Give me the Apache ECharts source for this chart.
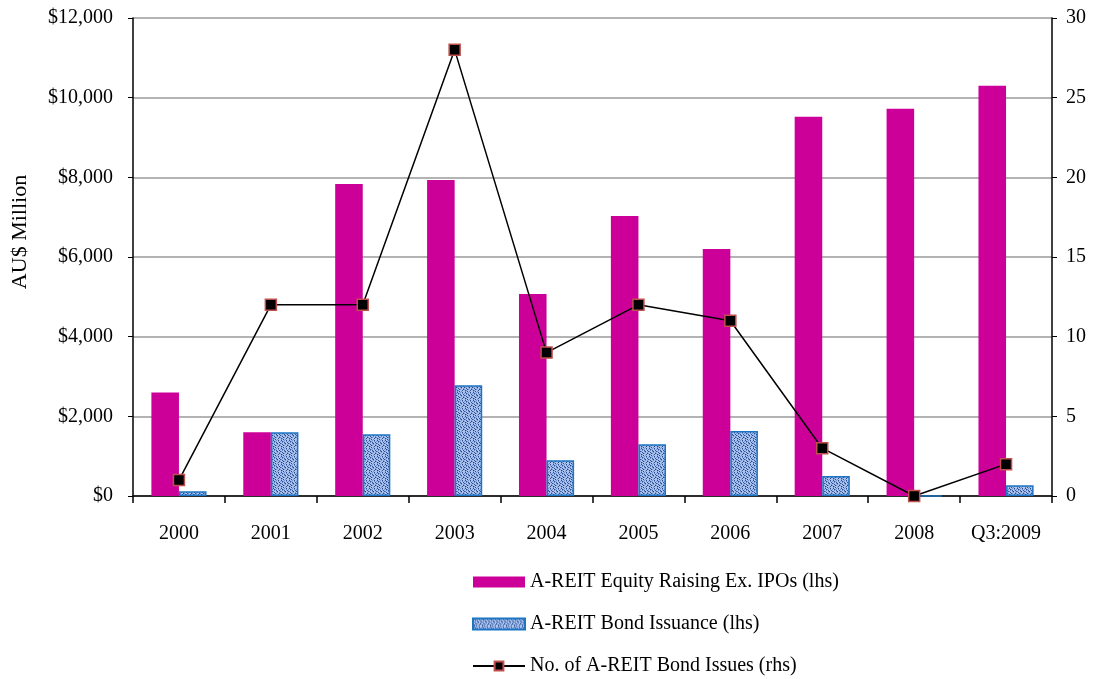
<!DOCTYPE html>
<html>
<head>
<meta charset="utf-8">
<script src="https://cdn.jsdelivr.net/npm/echarts@6/dist/echarts.min.js"></script>
<style>html,body{margin:0;padding:0;background:#fff;}#c{width:1101px;height:679px;}</style>
</head>
<body>
<div id="c"></div>
<script>
const categories = ['2000','2001','2002','2003','2004','2005','2006','2007','2008','Q3:2009'];
const equityRaising = [2600, 1600, 7830, 7930, 5070, 7030, 6200, 9520, 9720, 10300];
const bondIssuance = [120, 1600, 1550, 2780, 900, 1300, 1630, 500, 0, 270];
const bondIssues = [1, 12, 12, 28, 9, 12, 11, 3, 0, 2];
const leftTicks = [0, 2000, 4000, 6000, 8000, 10000, 12000];

// texture for the bond bars
function makePattern() {
  const rows = [
    'LDLLMLDL',
    'MLDMLLML',
    'LLMLDLLD',
    'DMLLMDLL',
    'LLDLLMLM',
    'MLLDMLLD',
    'LDMLLLDL',
    'LMLDLMLL'
  ];
  const col = {L: '#a9c2ee', M: '#6f8fcf', D: '#2c4c8e'};
  const cv = document.createElement('canvas');
  cv.width = 8; cv.height = 8;
  const ctx = cv.getContext('2d');
  for (let y = 0; y < 8; y++) for (let x = 0; x < 8; x++) {
    ctx.fillStyle = col[rows[y][x]];
    ctx.fillRect(x, y, 1, 1);
  }
  return cv;
}
const pat = makePattern();
const font = '"Liberation Serif", "Times New Roman", serif';
const fs = 20;

const chart = echarts.init(document.getElementById('c'), null, {renderer: 'canvas'});
chart.setOption({
  animation: false,
  backgroundColor: '#fff',
  textStyle: {fontFamily: font},
  grid: {left: 133, right: 49, top: 18, bottom: 183, containLabel: false, outerBoundsMode: 'none'},
  graphic: [{
    type: 'text',
    x: 20, y: 232,
    rotation: Math.PI / 2,
    style: {
      text: 'AU$ Million', fill: '#000', font: '22px ' + font,
      textAlign: 'center', textVerticalAlign: 'middle'
    }
  }],
  legend: {
    orient: 'vertical',
    left: 472,
    top: 572,
    padding: 0,
    itemGap: 22,
    itemWidth: 52,
    itemHeight: 11,
    textStyle: {fontFamily: font, fontSize: fs, color: '#000'},
    data: [
      {name: 'A-REIT Equity Raising Ex. IPOs (lhs)', icon: 'rect'},
      {name: 'A-REIT Bond Issuance (lhs)', icon: 'rect'},
      {name: 'No. of A-REIT Bond Issues (rhs)'}
    ]
  },
  xAxis: {
    type: 'category',
    data: categories,
    boundaryGap: true,
    axisLine: {lineStyle: {color: '#000', width: 1.5}},
    axisTick: {show: true, length: 7, lineStyle: {color: '#000', width: 1.5}},
    axisLabel: {color: '#000', fontSize: fs, fontFamily: font, margin: 28}
  },
  yAxis: [
    {
      type: 'value', min: 0, max: 12000, interval: 2000,
      axisLine: {show: true, lineStyle: {color: '#000', width: 1.5}},
      axisTick: {show: true, length: 5, lineStyle: {color: '#000'}},
      splitLine: {show: true, lineStyle: {color: '#9a9a9a', width: 1.5}},
      axisLabel: {
        color: '#000', fontSize: fs, fontFamily: font, margin: 20,
        formatter: v => '$' + v.toLocaleString('en-US')
      }
    },
    {
      type: 'value', min: 0, max: 30, interval: 5,
      position: 'right',
      axisLine: {show: true, lineStyle: {color: '#000', width: 1.5}},
      axisTick: {show: true, length: 5, lineStyle: {color: '#000'}},
      splitLine: {show: false},
      axisLabel: {color: '#000', fontSize: fs, fontFamily: font, margin: 14}
    }
  ],
  series: [
    {
      name: 'A-REIT Equity Raising Ex. IPOs (lhs)',
      type: 'bar',
      data: equityRaising,
      barGap: '0%',
      barCategoryGap: '40%',
      itemStyle: {color: '#cc0099'}
    },
    {
      name: 'A-REIT Bond Issuance (lhs)',
      type: 'bar',
      data: bondIssuance,
      itemStyle: {color: {image: pat, repeat: 'repeat'}, borderColor: '#1c75c4', borderWidth: 1.5}
    },
    {
      name: 'No. of A-REIT Bond Issues (rhs)',
      type: 'line',
      yAxisIndex: 1,
      data: bondIssues,
      symbol: 'rect',
      symbolSize: 11,
      lineStyle: {color: '#000', width: 1.5},
      itemStyle: {color: '#000', borderColor: '#c0504d', borderWidth: 1.5},
      z: 5
    }
  ]
});
</script>
</body>
</html>
